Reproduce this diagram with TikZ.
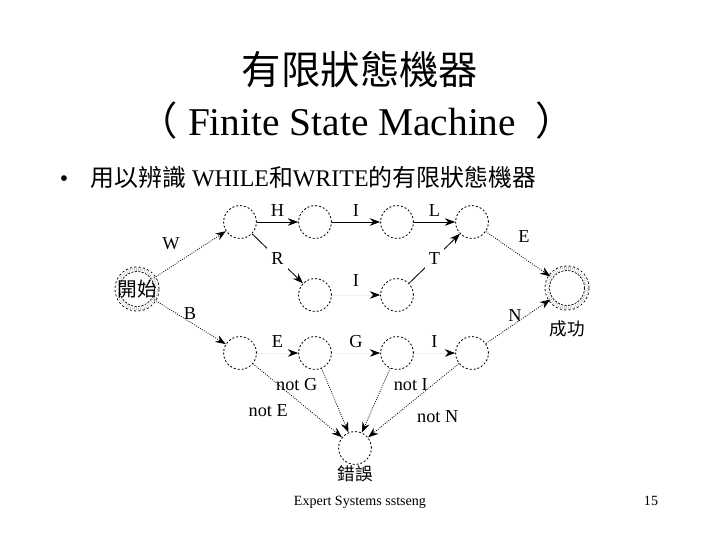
\documentclass[tikz,border=0pt]{standalone}
\usepackage{fontspec}
\setmainfont{Liberation Serif}
\newfontfamily\cjk{Noto Sans CJK TC}
\usetikzlibrary{arrows.meta}

\begin{document}
\begin{tikzpicture}[x=0.025cm,y=-0.025cm,line width=0.6pt,
  font=\fontsize{13}{15}\selectfont,
  state/.style={draw,circle,dash pattern=on 1.4pt off 1.4pt,minimum size=0.82cm,inner sep=0pt},
  ends/.style={state,double,double distance=2.6pt,minimum size=0.99cm},
  go/.style={-{Stealth[length=2.6mm,width=1.9mm]}},
  dots/.style={go,densely dotted},
  ghost/.style={draw=black!6,-{Stealth[color=black,length=2.6mm,width=1.9mm]}},
  gap/.style={fill=white,inner sep=3pt},
  lab/.style={inner sep=1.5pt},
  zh/.style={font=\cjk\fontsize{#1}{#1}\selectfont}]
\useasboundingbox (0,0) rectangle (720,540);
% heading
\node[zh=28,anchor=base] (title) at (360,84) {有限狀態機器};
\node[font=\fontsize{28}{34}\selectfont,anchor=base] (sub) at (357,135) {{\cjk （}\ Finite State Machine \ {\cjk ）}};
\node[font=\fontsize{17}{20}\selectfont,anchor=base] (dot) at (64,186) {•};
\node[font=\fontsize{17}{20}\selectfont,anchor=base west,inner sep=0pt] (aim) at (90,186) {{\cjk 用以辨識} WHILE{\cjk 和}WRITE{\cjk 的有限狀態機器}};
% states
\node[ends,label={[zh=14]center:開始}] (s0) at (137,289) {};
\node[state] (t1) at (240,222) {};
\node[state] (t2) at (315,222) {};
\node[state] (t3) at (397,222) {};
\node[state] (t4) at (472,222) {};
\node[state] (m1) at (315,295) {};
\node[state] (m2) at (397,295) {};
\node[state] (b1) at (240,353) {};
\node[state] (b2) at (315,353) {};
\node[state] (b3) at (397,353) {};
\node[state] (b4) at (472,353) {};
\node[ends,label={[zh=12.5,label distance=5pt]below:成功}] (s9) at (567,288) {};
\node[state,label={[zh=12.5,inner sep=0pt]below:錯誤}] (err) at (355,448) {};
% WHILE / WRITE
\draw[dots] (s0) -- node[lab,pos=0.45,above left=3pt] {W} (t1);
\draw[go] (t1) -- node[lab,above=2pt] {H} (t2);
\draw[go] (t2) -- node[lab,above=2pt] {I} (t3);
\draw[go] (t3) -- node[lab,above=2pt] {L} (t4);
\draw[dots] (t4) -- node[lab,pos=0.4,above right=3pt] {E} (s9);
\draw[go] (t1) -- node[gap] {R} (m1);
\draw[ghost] (m1) -- node[lab,above=4pt] {I} (m2);
\draw[go] (m2) -- node[gap] {T} (t4);
% BEGIN
\draw[dots] (s0) -- node[lab,above] {B} (b1);
\draw[ghost] (b1) -- node[lab,above=2pt] {E} (b2);
\draw[ghost] (b2) -- node[lab,above=2pt] {G} (b3);
\draw[ghost] (b3) -- node[lab,above=2pt] {I} (b4);
\draw[dots] (b4) -- node[lab,pos=0.45,above] {N} (s9);
% failures
\draw[dots] (b1) -- node[lab,pos=0.64,left=14pt] {not E} (err);
\draw[dots] (b2) -- node[lab,pos=0.25,left=6pt] {not G} (err);
\draw[dots] (b3) -- node[lab,pos=0.26,right=6pt] {not I} (err);
\draw[dots] (b4) -- node[lab,pos=0.72,right=15pt] {not N} (err);
% footer
\node[font=\fontsize{10}{12}\selectfont,anchor=base] (foot) at (360,505) {Expert Systems sstseng};
\node[font=\fontsize{10}{12}\selectfont,anchor=base] (page) at (651,505) {15};
\end{tikzpicture}
\end{document}
